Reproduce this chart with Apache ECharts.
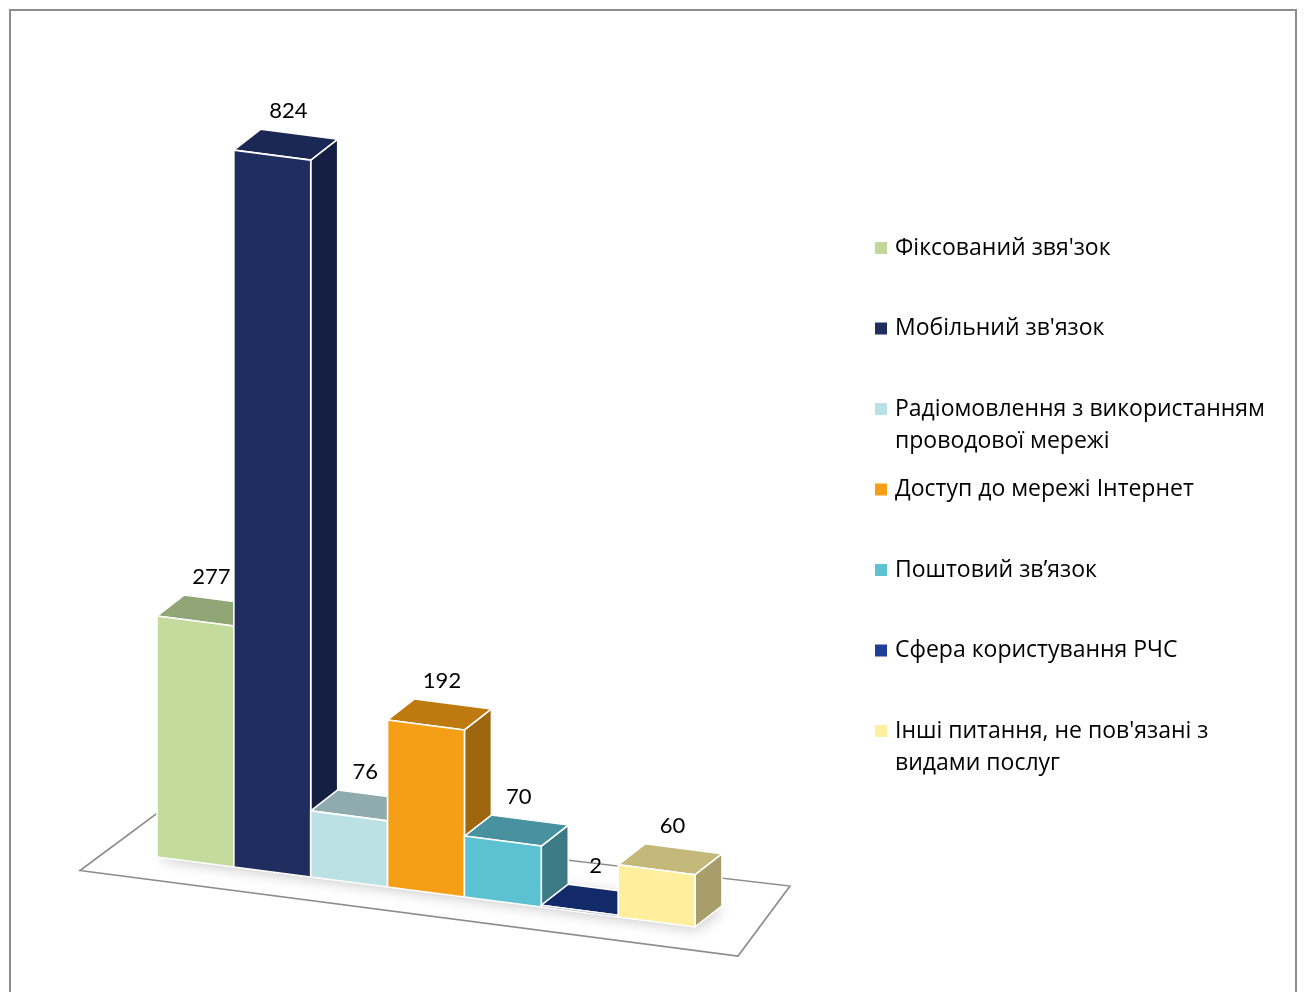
<!DOCTYPE html>
<html><head><meta charset="utf-8">
<script src="https://cdn.jsdelivr.net/npm/echarts@6/dist/echarts.min.js"></script>
<style>html,body{margin:0;padding:0;background:#fff}#c{width:1304px;height:992px}</style>
</head><body><div id="c"></div>
<script>
// ---- data ----
const categories = [
  "Фіксований звя'зок",
  "Мобільний зв'язок",
  "Радіомовлення з використанням проводової мережі",
  "Доступ до мережі Інтернет",
  "Поштовий зв’язок",
  "Сфера користування РЧС",
  "Інші питання, не пов'язані з видами послуг"
];
const values = [277, 824, 76, 192, 70, 2, 60];

// ---- styles ----
const frontColors = ['#C3DB9C', '#1F2D5F', '#BCE1E5', '#F59F17', '#5CC1D0', '#142F74', '#FFEF9C'];
const topColors   = ['#91A677', '#1B2755', '#8FABAE', '#BF7A0F', '#47929E', '#12296A', '#C4B87A'];
const sideColors  = ['#7C9063', '#151F42', '#7E989B', '#9E660F', '#3C7B85', '#0E2258', '#A89E6A'];
const legendColors = ['#C3D69B', '#1F2D5F', '#B9E0E6', '#F59F17', '#5CC1D0', '#1E3E98', '#FFF0A0'];

const SLOPE = 0.13, DX = 27, DY = -21;

function wrap(name) {
  const words = name.split(' ');
  let line = '', out = [];
  for (const w of words) {
    const t = line ? line + ' ' + w : w;
    if (t.length > 29 && line) { out.push(line); line = w; } else line = t;
  }
  out.push(line);
  return out.join('\n');
}

function barItem(params, api) {
  const i = api.value(0), v = api.value(1);
  const base = api.coord([i, 0]);
  const topP = api.coord([i, v]);
  const w = api.size([1, 0])[0];
  const x0 = params.coordSys.x;
  const xl = base[0] - w / 2, xr = base[0] + w / 2;
  const h = base[1] - topP[1];
  const ybl = base[1] + SLOPE * (xl - x0), ybr = base[1] + SLOPE * (xr - x0);
  const ytl = ybl - h, ytr = ybr - h;
  const edge = { stroke: '#fff', lineWidth: 1.6, lineJoin: 'round' };
  return {
    type: 'group', children: [
      { type: 'polygon', shape: { points: [[xr, ybr], [xr + DX, ybr + DY], [xr + DX, ytr + DY], [xr, ytr]] }, style: Object.assign({ fill: sideColors[i] }, edge) },
      { type: 'polygon', shape: { points: [[xl, ytl], [xr, ytr], [xr + DX, ytr + DY], [xl + DX, ytl + DY]] }, style: Object.assign({ fill: topColors[i] }, edge) },
      { type: 'polygon', shape: { points: [[xl, ybl], [xr, ybr], [xr, ytr], [xl, ytl]] }, style: Object.assign({ fill: frontColors[i] }, edge) },
      { type: 'text', x: (xl + xr) / 2 + 16, y: (ytl + ytr) / 2 + DY - 12,
        style: { text: String(v), fill: '#000', font: '22px Lato', align: 'center', verticalAlign: 'bottom' } }
    ]
  };
}

function floorItem(params, api) {
  const cs = params.coordSys;
  const x0 = cs.x, x1 = cs.x + cs.width, yb = cs.y + cs.height;
  const B = (x, ox, oy) => [x + ox, yb + SLOPE * (x - x0) + oy];
  const fl = B(x0 - 50, -27, 20), fr = B(x1 + 70, -27, 20), br = B(x1 + 70, 25, -50), bl = B(x0 - 50, 51, -38);
  const s1 = B(x0, 0, 0), s2 = B(x1, 0, 0), s3 = B(x1, DX, DY), s4 = B(x0, DX, DY);
  return {
    type: 'group', children: [
      { type: 'polygon', shape: { points: [fl, fr, br, bl] }, style: { fill: '#fff', stroke: '#8c8c8c', lineWidth: 1.6 } },
      { type: 'polygon', shape: { points: [s1, s2, s3, s4] }, style: { fill: 'rgba(90,90,90,0.5)', shadowBlur: 14, shadowOffsetX: 2, shadowOffsetY: 2, shadowColor: 'rgba(0,0,0,0.45)' } }
    ]
  };
}

const series = [{ type: 'custom', name: '_floor', renderItem: floorItem, data: [[0, 0]], silent: true, z: 1 }];
categories.forEach((name, i) => {
  series.push({ type: 'custom', name: name, renderItem: barItem, itemStyle: { color: legendColors[i] },
    data: [[i, values[i]]], encode: { x: 0, y: 1 }, z: 2 });
});

const legends = categories.map((name, i) => {
  const multi = wrap(name).indexOf('\n') >= 0;
  const iconY = 248 + i * 80.5;
  return {
    data: [name], orient: 'vertical', left: 875, top: multi ? iconY - 48 : iconY - 16,
    padding: 0, itemWidth: 12, itemHeight: 12, icon: 'rect',
    formatter: n => { const w = wrap(n); return w.indexOf('\n') >= 0 ? '\n' + w : w; },
    textStyle: { fontFamily: 'Open Sans', fontSize: 23, lineHeight: 32, color: '#000', padding: [0, 0, 0, 3] }
  };
});

const chart = echarts.init(document.getElementById('c'), null, { renderer: 'canvas' });
chart.setOption({
  animation: false,
  backgroundColor: '#fff',
  grid: { left: 157, right: 609, top: 74, bottom: 135 },
  xAxis: { type: 'category', data: categories, show: false },
  yAxis: { type: 'value', min: 0, max: 900, show: false },
  legend: legends,
  graphic: [{ type: 'rect', shape: { x: 10, y: 10, width: 1286, height: 1000 }, style: { fill: 'none', stroke: '#8c8c8c', lineWidth: 2 }, silent: true }],
  series: series
});
</script></body></html>
